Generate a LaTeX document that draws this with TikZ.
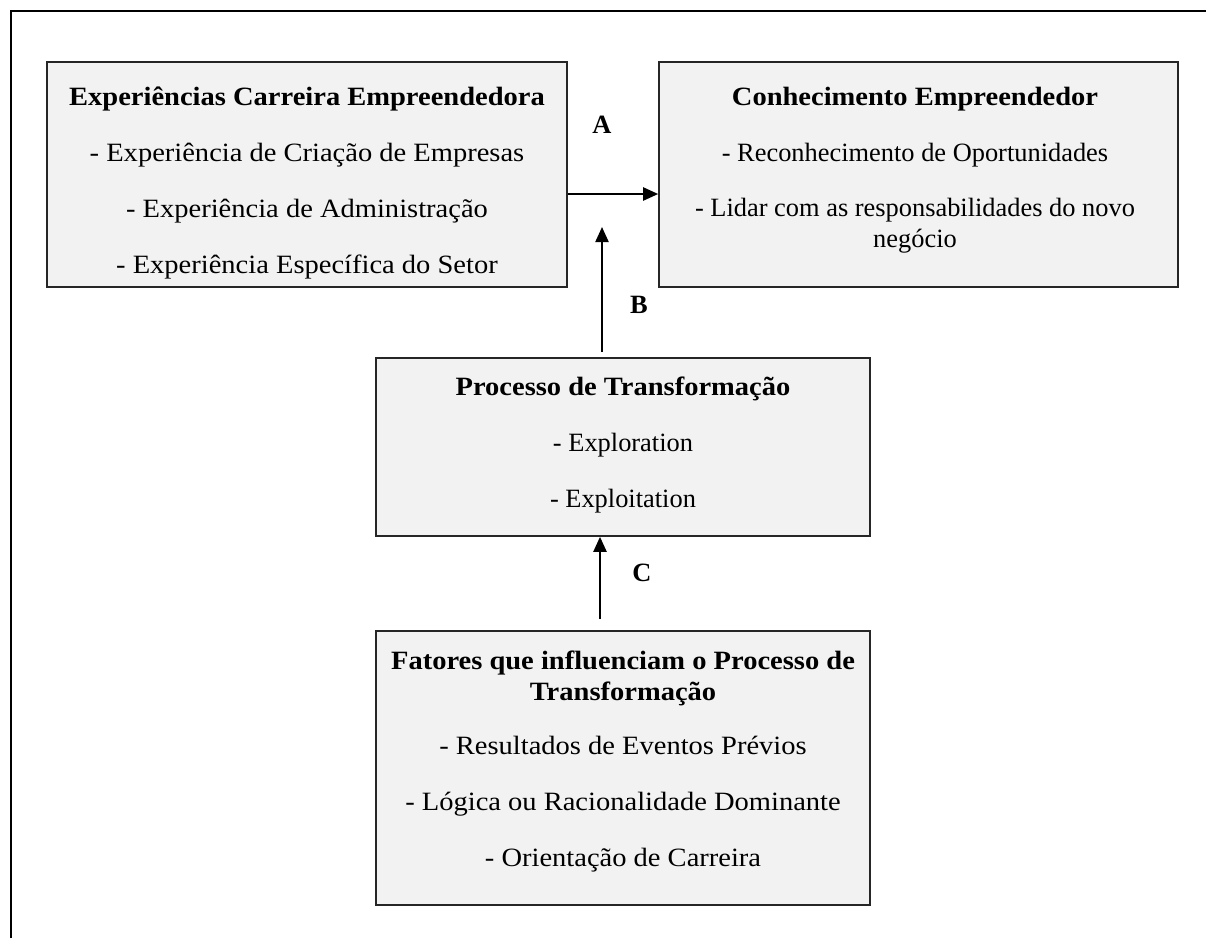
\documentclass[tikz,border=0pt]{standalone}
\usepackage{fontspec}
\setmainfont{Liberation Serif}
\newfontfamily\camb[FakeStretch=1.08]{Liberation Serif}
\usetikzlibrary{arrows.meta,positioning}
\definecolor{cinza}{HTML}{F2F2F2}
\tikzset{
  caixa/.style={draw=black!85, line width=1.6pt, fill=cinza, inner sep=0pt},
  texto/.style={anchor=north, align=center, inner sep=0pt, font=\fontsize{26.4}{31}\selectfont},
  seta/.style={line width=2.2pt, -{Triangle[length=15pt,width=13pt]}},
  letra/.style={inner sep=0pt, font=\fontsize{26.4}{31}\selectfont\bfseries}
}
\begin{document}
\begin{tikzpicture}[x=1pt,y=-1pt]
	\useasboundingbox (0,0) rectangle (1206,938);
	%	\draw[help lines,step=50] (0,0) grid (1206,938);
	\draw[line width=2.4pt] (11,938) -- (11,11) -- (1206,11);
	\node[caixa,minimum width=520,minimum height=225] (exp) at (307,174.5) {};
	\node[caixa,minimum width=519,minimum height=225] (conh) at (918.5,174.5) {};
	\node[caixa,minimum width=494,minimum height=178] (proc) at (623,447) {};
	\node[caixa,minimum width=494,minimum height=274] (fat) at (623,768) {};
	\node[texto] (expT) at (307,83.8) {\strut\camb\bfseries Experiências Carreira Empreendedora\\[25pt]
		\camb - Experiência de Criação de Empresas\\[25pt]
		\camb - Experiência de Administração\\[25pt]
		\camb - Experiência Específica do Setor};
	\node[texto] (conhT) at (915,83.8) {\strut\camb\bfseries Conhecimento Empreendedor\\[25pt]
		- Reconhecimento de Oportunidades\\[24pt]
		- Lidar com as responsabilidades do novo\\
		negócio};
	\node[texto] (procT) at (623,373.8) {\strut\camb\bfseries Processo de Transformação\\[25pt]
		- Exploration\\[25pt]
		- Exploitation};
	\node[texto] (fatT) at (623,648) {\strut\camb\bfseries Fatores que influenciam o Processo de\\
		\camb\bfseries Transformação\\[23pt]
		\camb - Resultados de Eventos Prévios\\[25pt]
		\camb - Lógica ou Racionalidade Dominante\\[25pt]
		\camb - Orientação de Carreira};
	\coordinate (bTopo) at (602,227);
	\coordinate (bBase) at (602,352);
	\coordinate (cBase) at (600,619);
	\draw[seta] ([yshift=-19.5pt]exp.east) -- ([yshift=-19.5pt]conh.west);
	\draw[seta] (bBase) -- (bTopo);
	\draw[seta] (cBase) -- (cBase |- proc.south);
	\node[letra] (lA) at (602,125) {A};
	\node[letra] (lB) at (639,305) {B};
	\node[letra] (lC) at (642,573) {C};
\end{tikzpicture}
\end{document}
